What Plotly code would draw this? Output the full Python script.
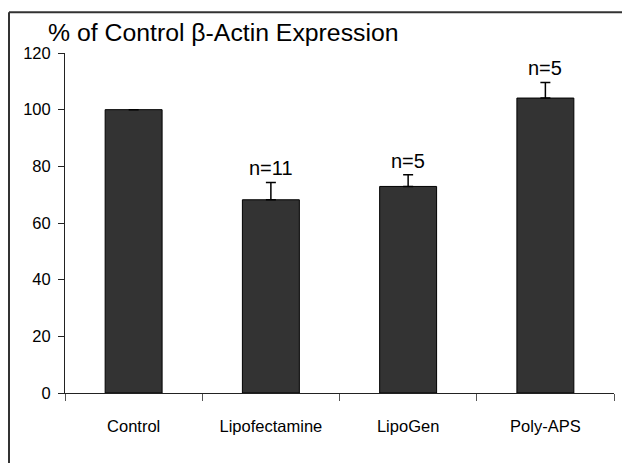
import plotly.graph_objects as go

categories = ["Control", "Lipofectamine", "LipoGen", "Poly-APS"]
values = [100, 68.2, 72.9, 104.1]
errors_plus = [0, 6.1, 4.1, 5.5]
n_labels = ["", "n=11", "n=5", "n=5"]
y_ticks = [0, 20, 40, 60, 80, 100, 120]

REG = "Liberation Sans, Arial, Helvetica, sans-serif"

fig = go.Figure()
fig.add_trace(go.Bar(
    x=categories, y=values,
    marker=dict(color="#333333", line=dict(color="#000000", width=1)),
    error_y=dict(type="data", array=errors_plus, symmetric=False, arrayminus=[0]*4,
                 color="#000000", thickness=1.5, width=5),
    showlegend=False, hoverinfo="skip",
))

for c, v, e, t in zip(categories, values, errors_plus, n_labels):
    if t:
        fig.add_annotation(x=c, y=v + e, text=t, showarrow=False, yanchor="bottom",
                           yshift=1, font=dict(family=REG, size=20, color="#000000"))

fig.add_annotation(text="% of Control β-Actin Expression", xref="paper", yref="paper",
                   x=-0.035, y=1.06, xanchor="left", yanchor="middle", showarrow=False,
                   font=dict(family=REG, size=24.8, color="#000000"))

# outer frame (only left and top edges are visible in the reference)
fig.add_shape(type="line", xref="paper", yref="paper", x0=-0.102, x1=-0.102, y0=-0.5, y1=1.12,
              line=dict(color="#333333", width=2))
fig.add_shape(type="line", xref="paper", yref="paper", x0=-0.102, x1=1.3, y0=1.12, y1=1.12,
              line=dict(color="#333333", width=2))

fig.update_layout(
    width=622, height=463,
    margin=dict(l=65, r=8, t=53, b=70, autoexpand=False),
    paper_bgcolor="white", plot_bgcolor="white",
    bargap=0.585,
    xaxis=dict(showline=True, linecolor="#222222", linewidth=1,
               ticks="outside", tickson="boundaries", ticklen=7, tickcolor="#555555",
               tickfont=dict(family=REG, size=16.5, color="#000000"),
               ticklabelstandoff=18, showgrid=False, fixedrange=True),
    yaxis=dict(range=[0, 120], tickvals=y_ticks, showline=True, linecolor="#222222",
               linewidth=1, ticks="outside", ticklen=6, tickcolor="#222222",
               tickfont=dict(family=REG, size=16.5, color="#000000"),
               ticklabelstandoff=4,
               showgrid=False, zeroline=False, fixedrange=True),
)

fig.write_html("out.html", config={"displayModeBar": False},
               post_script="document.body.style.margin='0';document.body.style.overflow='hidden';")
